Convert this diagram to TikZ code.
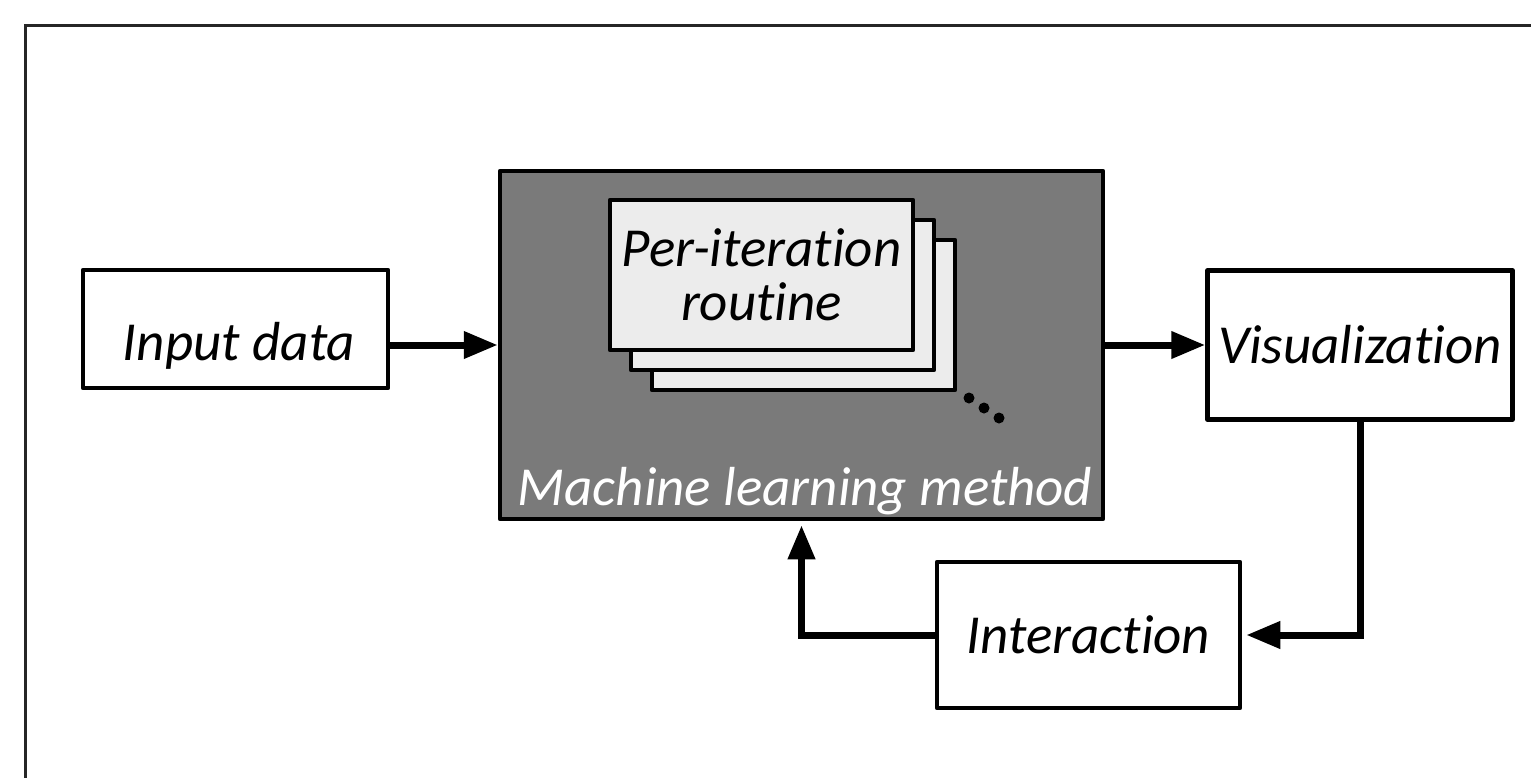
\documentclass[tikz,border=0pt]{standalone}
\usepackage{fontspec}
\setmainfont[Ligatures=NoCommon]{Carlito}
\usetikzlibrary{arrows.meta,positioning}

\begin{document}
\begin{tikzpicture}[x=1pt,y=-1pt,
    box/.style={draw=black,line width=4.5pt,line join=round,fill=white,inner sep=0pt,
      font=\fontsize{55}{54}\selectfont\itshape},
    card/.style={box,fill=gray!15,align=center,minimum width=303pt,minimum height=150pt},
    lbl/.style={inner sep=0pt,font=\fontsize{55}{54}\selectfont\itshape},
    arrow/.style={line width=7pt,-{Triangle[length=34pt,width=26pt]}}]
  \useasboundingbox (0,0) rectangle (1531,777);
  % outer frame, runs off the page on the right and at the bottom
  \draw[line width=3pt,black!85] (1560,25) -| (25,800);

  % the method with its stack of routines
  \node[box,fill=black!52,minimum width=603pt,minimum height=348pt] (ml) at (801.5,345) {};
  \foreach \i in {2,1} {
    \node[card] (card\i) at (761.5+21*\i,275+20*\i) {};
  }
  \node[card] (card0) at (761.5,275) {Per-iteration\\routine};
  \foreach \i in {0,1,2} {
    \fill (969+15*\i,398+10*\i) circle (5.5pt);
  }
  \node[lbl,text=white,anchor=base] (mltext) at ([xshift=3.5pt,yshift=16pt]ml.south) {Machine learning method};

  % input, output and the feedback loop
  \node[box,minimum width=305pt,minimum height=118pt] (input) at (235.5,329) {};
  \node[lbl,anchor=base] (inputtext) at (239,360) {Input data};
  \node[box,minimum width=305pt,minimum height=149pt,right=100pt of ml] (vis) {Visualization};
  \node[box,minimum width=303pt,minimum height=146pt] (inter) at (1088.5,635) {Interaction};

  \draw[arrow] (input.east |- ml.west) -- (ml.west);
  \draw[arrow] (ml.east) -- (vis.west);
  \draw[arrow,shorten >=4pt] (vis.south) |- (inter.east);
  \draw[arrow,shorten >=4pt] (inter.west) -| (ml.south);
\end{tikzpicture}
\end{document}
